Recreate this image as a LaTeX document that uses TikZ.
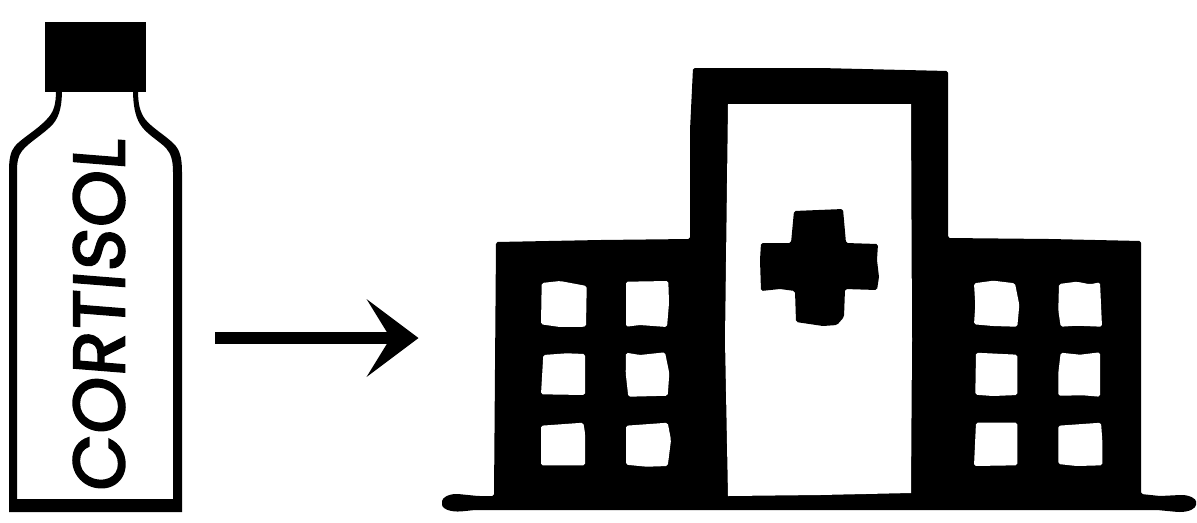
\documentclass[tikz,border=0pt]{standalone}
\usepackage{fontspec}
\newfontfamily\labelfont[FakeSlant=0.08, FakeBold=3, LetterSpace=2]{Poppins}
\usetikzlibrary{arrows.meta}

\begin{document}
\begin{tikzpicture}[
  x=0.02cm, y=-0.02cm,
  ink/.style={fill=black, draw=none},
  pane/.style={fill=white, draw=none, rounded corners=1pt},
  drugname/.style={font=\labelfont\fontsize{41}{41}\selectfont, rotate=90, text=black, inner sep=0pt},
  arrow/.style={-{Stealth[length=1.04cm, width=1.56cm, inset=0.48cm, line width=0pt]}, line width=0.23cm}
]
\useasboundingbox (0,0) rectangle (1197,522);

% --- BOTTLE ---
\fill[ink] (45,22) rectangle (146,92);
\fill[ink, even odd rule]
  (56,90) .. controls (56,104) and (54,112) .. (47,119)
  .. controls (37,130) and (22,138) .. (15,146)
  .. controls (10,152) and (9,160) .. (9,172)
  -- (9,512) -- (182,512) -- (182,172)
  .. controls (182,158) and (180,150) .. (174,144)
  .. controls (165,135) and (152,128) .. (145,119)
  .. controls (140,112) and (138,104) .. (138,90) -- cycle
  (62,90) .. controls (62,104) and (60,116) .. (53,124)
  .. controls (44,134) and (29,142) .. (22,151)
  .. controls (18,156) and (17,162) .. (17,172)
  -- (17,499) -- (173,499) -- (173,172)
  .. controls (173,160) and (171,154) .. (166,148)
  .. controls (158,140) and (146,134) .. (140,124)
  .. controls (135,116) and (133,104) .. (133,90) -- cycle;
\node[drugname] (drugname) at (99,316) {CORTISOL};

% --- ARROW ---
\coordinate (arrowtail) at (215,338);
\coordinate (arrowhead) at (418.5,338);
\draw[arrow] (arrowtail) -- (arrowhead);

% --- HOSPITAL ---
\fill[ink, rounded corners=1pt]
  (496,242) -- (600,240) -- (690,239) -- (690,180) -- (690,130) -- (693,68)
  -- (820,68) -- (948,71) -- (948,238) -- (1050,239) -- (1141,241)
  -- (1141,494) -- (1160,496) -- (1180,495)
  .. controls (1190,495) and (1196,499) .. (1196,503)
  .. controls (1196,508) and (1190,512) .. (1178,512)
  -- (1157,510) -- (700,510) -- (475,510)
  .. controls (465,511) and (458,512) .. (452,511)
  .. controls (446,510) and (442,507) .. (442,503)
  .. controls (442,498) and (448,494) .. (458,494)
  -- (478,496) -- (494,496) -- cycle;

% door
\fill[pane, rounded corners=0pt]
  (728,104) -- (911,104) -- (912,340) -- (911,493) -- (820,495) -- (728,496) -- (725,340) -- cycle;

% cross
\fill[ink, rounded corners=1pt]
  (794,211) -- (843,209) -- (846,243) -- (878,244) -- (877,260) -- (879,277) -- (877,290)
  -- (845,289) -- (844,317) -- (837,325) -- (823,326) -- (796,322) -- (795,291)
  -- (780,289) -- (761,291) -- (760,260) -- (761,243) -- (791,243) -- cycle;

% --- WINDOWS LEFT ---
\fill[pane] (541.7,283) -- (560,281) -- (586.7,286) -- (586,326.7) -- (560,327) -- (541,324.3) -- cycle;
\fill[pane] (626,281.7) -- (668.3,281) -- (669,303) -- (667,327) -- (640,325) -- (626,326.7) -- cycle;
\fill[pane] (543.3,355) -- (566.7,353.3) -- (585,354) -- (585,395) -- (541,394.3) -- cycle;
\fill[pane] (626,352.7) -- (640,355) -- (665,352.3) -- (669.3,373.3) -- (667.7,395.7) -- (628.3,396.7) -- (625.7,373.3) -- cycle;
\fill[pane] (541,425.7) -- (583.3,422.7) -- (585,433) -- (585,465.3) -- (541,465.3) -- cycle;
\fill[pane] (626,425.7) -- (667.7,422.7) -- (671,440) -- (667.7,466) -- (646.7,466.7) -- (626,464.7) -- cycle;

% --- WINDOWS RIGHT ---
\fill[pane] (974,283.3) -- (993.3,280.7) -- (1015,283.3) -- (1019.3,305) -- (1017.3,326.7) -- (993,326) -- (974,324.3) -- (975.3,305) -- cycle;
\fill[pane] (1059,284) -- (1076.7,281.7) -- (1090,284.3) -- (1100,282.3) -- (1102,326.7) -- (1076.7,325.7) -- (1060.7,326.7) -- (1058.3,310) -- cycle;
\fill[pane] (976,352.7) -- (1017.3,354.7) -- (1017.3,395) -- (993,396) -- (975.3,394.7) -- cycle;
\fill[pane] (1060.7,352.7) -- (1080,354.7) -- (1100,352.3) -- (1100,396.7) -- (1083,395.3) -- (1058.3,395.7) -- (1058.3,373) -- cycle;
\fill[pane] (976,422.7) -- (1017.3,422.7) -- (1017.3,465.3) -- (974,466) -- cycle;
\fill[pane] (1058.3,425.7) -- (1101,422.7) -- (1102.3,440) -- (1102.3,465.3) -- (1076.7,466) -- (1058.3,464) -- cycle;

\end{tikzpicture}
\end{document}
